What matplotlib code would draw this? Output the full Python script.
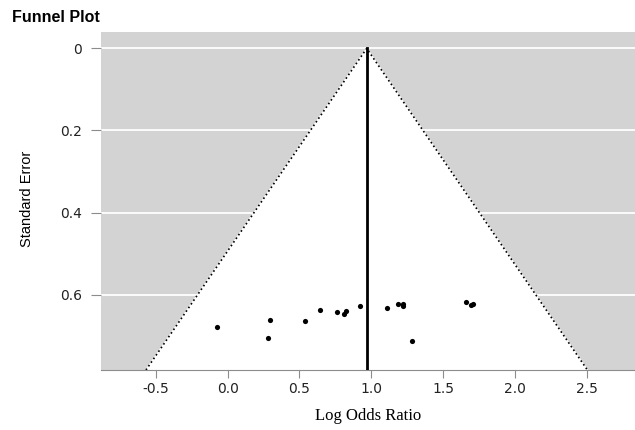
#!/usr/bin/env python3
"""Funnel plot: log odds ratio vs standard error with 95% pseudo-CI funnel."""
import matplotlib
matplotlib.use("Agg")
import matplotlib.pyplot as plt

plt.rcParams["axes.unicode_minus"] = False

# study estimates
log_or = [-0.077, 0.295, 0.279, 0.538, 0.645, 0.761, 0.826, 0.810, 0.923,
          1.111, 1.188, 1.219, 1.223, 1.281, 1.657, 1.708, 1.694]
std_err = [0.678, 0.661, 0.705, 0.665, 0.638, 0.643, 0.639, 0.647, 0.628,
           0.634, 0.624, 0.622, 0.629, 0.714, 0.618, 0.624, 0.626]

x_ticks = [-0.5, 0.0, 0.5, 1.0, 1.5, 2.0, 2.5]
x_ticklabels = ["-0.5", "0.0", "0.5", "1.0", "1.5", "2.0", "2.5"]
y_ticks = [0, 0.2, 0.4, 0.6]
y_ticklabels = ["0", "0.2", "0.4", "0.6"]

CENTER = 0.968   # pooled estimate
Z = 1.96
SE_MAX = 0.784

GREY = "#d3d3d3"
TICK_GREY = "#8c8c8c"


def main():
    fig = plt.figure(figsize=(6.35, 4.3), dpi=100)
    ax = fig.add_axes([0.159, 0.1395, 0.841, 0.786])
    ax.set_xlim(-0.882, 2.836)
    ax.set_ylim(SE_MAX, -0.040)
    ax.set_facecolor(GREY)

    for side in ("top", "right", "left"):
        ax.spines[side].set_visible(False)
    ax.spines["bottom"].set_color(TICK_GREY)
    ax.spines["bottom"].set_linewidth(0.8)

    ax.yaxis.grid(True, color="white", lw=1.3)
    ax.set_axisbelow(True)

    # funnel
    fx = [CENTER - Z * SE_MAX, CENTER, CENTER + Z * SE_MAX]
    fy = [SE_MAX, 0, SE_MAX]
    ax.fill(fx, fy, color="white", zorder=1)
    ax.plot(fx, fy, ls=":", color="black", lw=1.2, zorder=2)
    ax.plot([CENTER, CENTER], [0, SE_MAX], color="black", lw=2, zorder=3)

    ax.scatter(log_or, std_err, s=14, c="black", zorder=4, linewidths=0)

    ax.set_xticks(x_ticks)
    ax.set_xticklabels(x_ticklabels)
    ax.set_yticks(y_ticks)
    ax.set_yticklabels(y_ticklabels)
    ax.tick_params(axis="both", colors=TICK_GREY, labelcolor="#222222",
                   labelsize=10, width=0.8)
    ax.tick_params(axis="x", length=5.5, pad=3)
    ax.tick_params(axis="y", length=7.5, pad=6)
    for lab in ax.get_xticklabels() + ax.get_yticklabels():
        lab.set_family("DejaVu Sans")

    ax.set_xlabel("Log Odds Ratio", family="Liberation Serif", fontsize=12,
                  labelpad=9)
    fig.text(27 / 635, 1 - 199 / 430, "Standard Error", rotation=90,
             ha="center", va="center", fontsize=10.5, family="Liberation Sans")
    fig.text(12 / 635, 1 - 18 / 430, "Funnel Plot", ha="left", va="center",
             fontsize=11.5, fontweight="bold", family="Liberation Sans")

    fig.savefig("out.png", dpi=100)


if __name__ == "__main__":
    main()
